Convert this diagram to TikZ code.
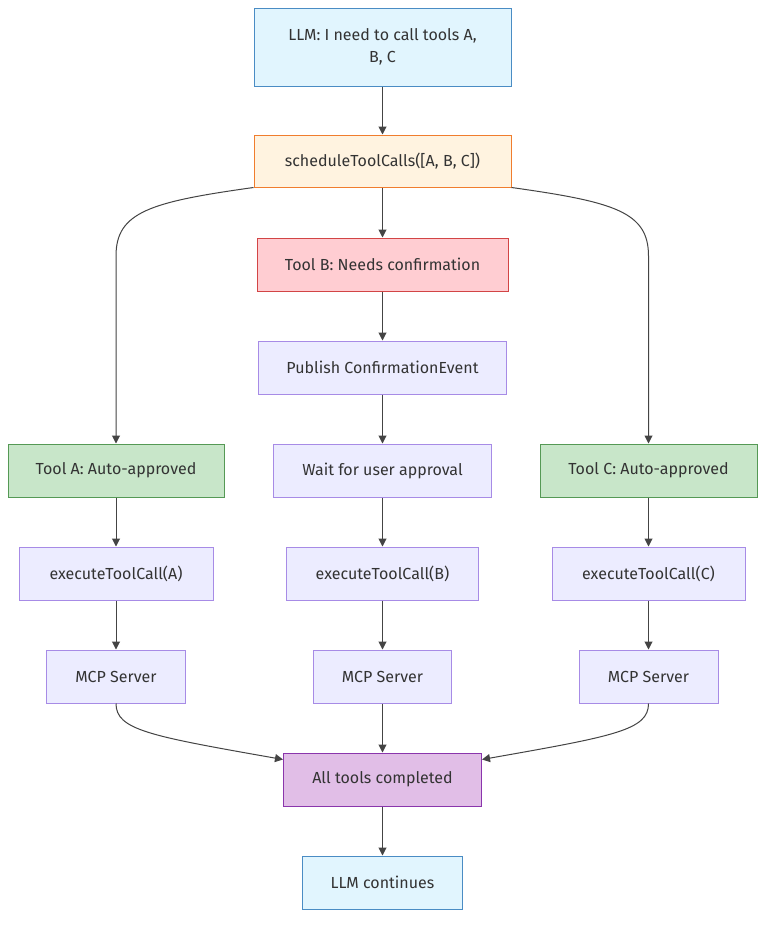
\documentclass[tikz,border=0pt]{standalone}
\usepackage{fontspec}
\setmainfont{Fira Sans}
\usetikzlibrary{arrows.meta,calc}
\definecolor{txt}{HTML}{333333}
\definecolor{edge}{HTML}{444444}
\definecolor{bluefill}{HTML}{E1F5FE}\definecolor{bluedraw}{HTML}{4A8CC4}
\definecolor{orfill}{HTML}{FFF3E0}\definecolor{ordraw}{HTML}{F07D2E}
\definecolor{pkfill}{HTML}{FFCDD2}\definecolor{pkdraw}{HTML}{D24545}
\definecolor{lvfill}{HTML}{ECECFF}\definecolor{lvdraw}{HTML}{A78BE6}
\definecolor{grfill}{HTML}{C8E6C9}\definecolor{grdraw}{HTML}{559955}
\definecolor{pufill}{HTML}{E1BEE7}\definecolor{pudraw}{HTML}{8A35AC}
\tikzset{
  box/.style={rectangle,inner sep=0pt,minimum height=53pt,line width=1pt,
    text=txt,font=\fontsize{16}{22}\selectfont,align=center},
  bluebox/.style={box,fill=bluefill,draw=bluedraw},
  orbox/.style={box,fill=orfill,draw=ordraw},
  pkbox/.style={box,fill=pkfill,draw=pkdraw},
  lvbox/.style={box,fill=lvfill,draw=lvdraw},
  grbox/.style={box,fill=grfill,draw=grdraw},
  pubox/.style={box,fill=pufill,draw=pudraw},
  conn/.style={draw=edge,line width=1pt,-{Triangle[length=8pt,width=8pt]}},
}
\begin{document}
\begin{tikzpicture}[x=1pt,y=-1pt]
\useasboundingbox[fill=white] (0,0) rectangle (773,926);
\node[bluebox,minimum width=257pt,minimum height=78pt] (llm) at (382.5,47) {LLM: I need to call tools A,\\B, C};
\node[orbox,minimum width=257pt,minimum height=52pt] (sched) at (382.5,161) {scheduleToolCalls([A, B, C])};
\node[pkbox,minimum width=251pt] (toolB) at (382.5,264.5) {Tool B: Needs confirmation};
\node[lvbox,minimum width=248pt] (pub) at (382.5,367.5) {Publish ConfirmationEvent};
\node[lvbox,minimum width=218pt] (wait) at (382.5,470.5) {Wait for user approval};
\node[grbox,minimum width=216pt] (toolA) at (116,470.5) {Tool A: Auto-approved};
\node[grbox,minimum width=217pt] (toolC) at (648.5,470.5) {Tool C: Auto-approved};
\node[lvbox,minimum width=194pt] (exA) at (116,573.5) {executeToolCall(A)};
\node[lvbox,minimum width=192pt] (exB) at (382.5,573.5) {executeToolCall(B)};
\node[lvbox,minimum width=193pt] (exC) at (648.5,573.5) {executeToolCall(C)};
\node[lvbox,minimum width=139pt] (mcpA) at (116,676.5) {MCP Server};
\node[lvbox,minimum width=138pt] (mcpB) at (382.5,676.5) {MCP Server};
\node[lvbox,minimum width=139pt] (mcpC) at (648.5,676.5) {MCP Server};
\node[pubox,minimum width=198pt] (all) at (382.5,779.5) {All tools completed};
\node[bluebox,minimum width=160pt] (cont) at (382.5,882.5) {LLM continues};

\draw[conn] (llm) -- (sched);
\draw[conn] (sched) -- (toolB);
\draw[conn] (toolB) -- (pub);
\draw[conn] (pub) -- (wait);
\draw[conn] (wait) -- (exB);
\draw[conn] (exB) -- (mcpB);
\draw[conn] (mcpB) -- (all);
\draw[conn] (all) -- (cont);
\draw[conn] (toolA) -- (exA);
\draw[conn] (exA) -- (mcpA);
\draw[conn] (toolC) -- (exC);
\draw[conn] (exC) -- (mcpC);
\draw[conn] (sched.south west) .. controls (150,202) and (116,212) .. (116,256) -- (toolA.north);
\draw[conn] (sched.south east) .. controls (615,202) and (648.5,212) .. (648.5,256) -- (toolC.north);
\draw[conn] (mcpA.south) .. controls (116,730) and (150,736) .. ($(all.north west)+(0,7)$);
\draw[conn] (mcpC.south) .. controls (648.5,730) and (615,736) .. ($(all.north east)+(0,7)$);
\end{tikzpicture}
\end{document}
